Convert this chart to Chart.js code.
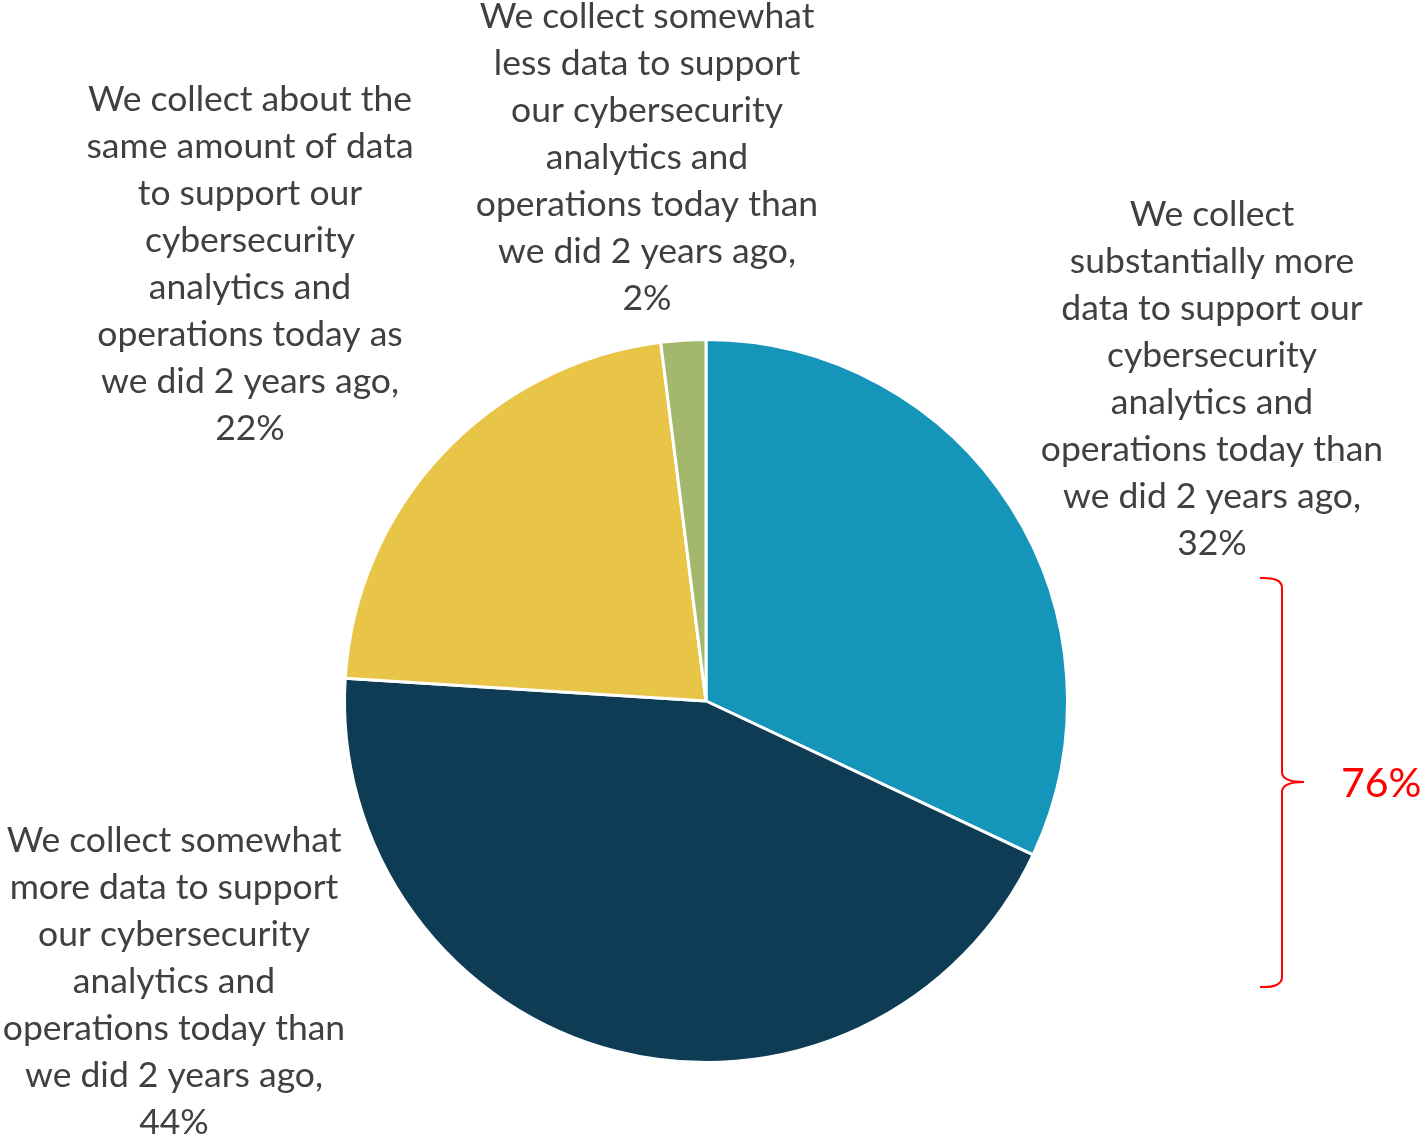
<!DOCTYPE html>
<html>
<head>
<meta charset="utf-8">
<script src="https://cdn.jsdelivr.net/npm/chart.js@4"></script>
<style>
  html, body { margin: 0; padding: 0; background: #fff; }
  #wrap { width: 1428px; height: 1142px; position: relative; }
</style>
</head>
<body>
<div id="wrap"><canvas id="pie"></canvas></div>
<script>
// Survey answers, clockwise from 12 o'clock
const categories = [
    'We collect substantially more data to support our cybersecurity analytics and operations today than we did 2 years ago',
    'We collect somewhat more data to support our cybersecurity analytics and operations today than we did 2 years ago',
    'We collect about the same amount of data to support our cybersecurity analytics and operations today as we did 2 years ago',
    'We collect somewhat less data to support our cybersecurity analytics and operations today than we did 2 years ago'
];
const shares = [32, 44, 22, 2];
const sliceColors = ['#1595BA', '#0E3C55', '#E8C547', '#A3B86C'];

// Wrapped label lines, as laid out around the pie
const labelLines = [
    ['We collect', 'substantially more', 'data to support our', 'cybersecurity', 'analytics and', 'operations today than', 'we did 2 years ago,'],
    ['We collect somewhat', 'more data to support', 'our cybersecurity', 'analytics and', 'operations today than', 'we did 2 years ago,'],
    ['We collect about the', 'same amount of data', 'to support our', 'cybersecurity', 'analytics and', 'operations today as', 'we did 2 years ago,'],
    ['We collect somewhat', 'less data to support', 'our cybersecurity', 'analytics and', 'operations today than', 'we did 2 years ago,']
];
// centre x / first line y of each label block, relative to pie centre
const labelAnchors = [
    [506, -486],
    [-532, 140],
    [-456, -601],
    [-59, -684]
];
const bracketedTotal = shares[0] + shares[1];

const FONT = '"Source Sans Pro", "Lato", sans-serif';
const LINE_H = 47;

const labelPlugin = {
    id: 'outerLabels',
    afterDraw(chart) {
        const ctx = chart.ctx;
        const arc = chart.getDatasetMeta(0).data[0];
        const cx = arc.x, cy = arc.y;
        ctx.save();
        ctx.fillStyle = '#404040';
        ctx.font = '35.5px ' + FONT;
        ctx.textAlign = 'center';
        ctx.textBaseline = 'middle';
        labelLines.forEach((lines, i) => {
            const [dx, dy] = labelAnchors[i];
            const all = lines.concat([shares[i] + '%']);
            all.forEach((t, j) => {
                ctx.fillText(t, cx + dx, cy + dy + j * LINE_H);
            });
        });

        // curly brace grouping the two "more data" answers
        const bx = cx + 576, top = cy - 123, bot = cy + 286, mid = cy + 81;
        ctx.strokeStyle = '#FF0000';
        ctx.lineWidth = 2;
        ctx.beginPath();
        ctx.moveTo(bx - 22, top);
        ctx.quadraticCurveTo(bx, top - 1, bx, top + 10);
        ctx.lineTo(bx, mid - 10);
        ctx.quadraticCurveTo(bx, mid, bx + 22, mid);
        ctx.moveTo(bx + 22, mid);
        ctx.quadraticCurveTo(bx, mid, bx, mid + 10);
        ctx.lineTo(bx, bot - 10);
        ctx.quadraticCurveTo(bx, bot + 1, bx - 22, bot);
        ctx.stroke();

        ctx.fillStyle = '#FF0000';
        ctx.font = '41px ' + FONT;
        ctx.textAlign = 'left';
        ctx.fillText(bracketedTotal + '%', bx + 59, mid + 2);
        ctx.restore();
    }
};

new Chart(document.getElementById('pie'), {
    type: 'pie',
    data: {
        labels: categories,
        datasets: [{
            data: shares,
            backgroundColor: sliceColors,
            borderColor: '#ffffff',
            borderWidth: 3
        }]
    },
    options: {
        responsive: true,
        maintainAspectRatio: false,
        animation: false,
        layout: {
            padding: { left: 343, right: 359, top: 338, bottom: 78 }
        },
        plugins: {
            legend: { display: false },
            tooltip: { enabled: false }
        }
    },
    plugins: [labelPlugin]
});
</script>
</body>
</html>
